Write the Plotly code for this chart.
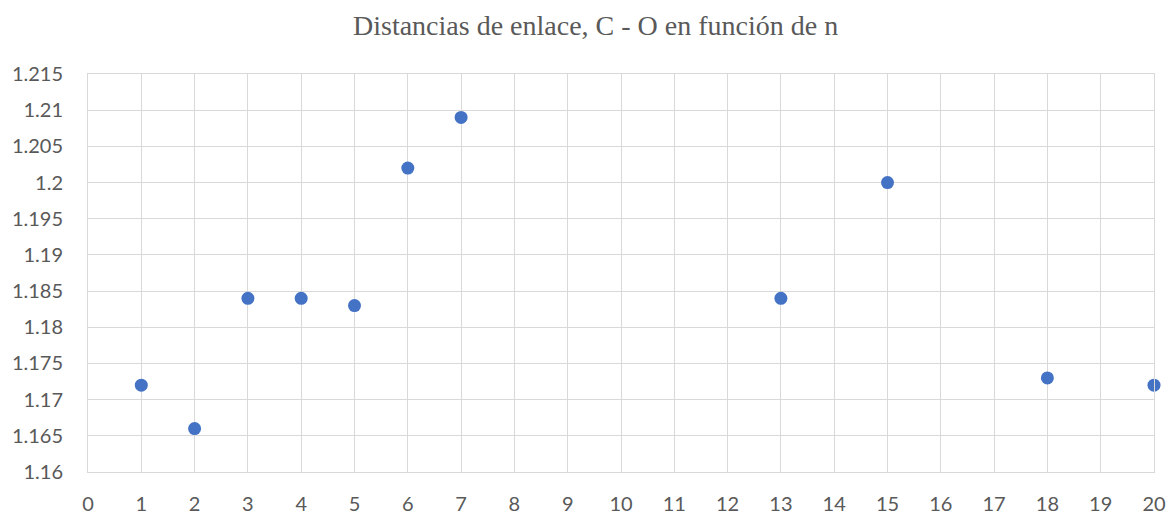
import plotly.graph_objects as go

# Bond distances C - O as a function of n
n_values = [1, 2, 3, 4, 5, 6, 7, 13, 15, 18, 20]
distances = [1.172, 1.166, 1.184, 1.184, 1.183, 1.202, 1.209, 1.184, 1.200, 1.173, 1.172]

x_ticks = list(range(0, 21))
y_ticks = [1.16, 1.165, 1.17, 1.175, 1.18, 1.185, 1.19, 1.195, 1.2, 1.205, 1.21, 1.215]
y_labels = ["1.16", "1.165", "1.17", "1.175", "1.18", "1.185", "1.19", "1.195", "1.2", "1.205", "1.21", "1.215"]

title_text = "Distancias de enlace, C - O en función de n"

W, H = 1169, 514
ML, MR, MT, MB = 88, 15, 74, 42

fig = go.Figure(
    go.Scatter(
        x=n_values,
        y=distances,
        mode="markers",
        marker=dict(color="#4472C4", size=13, line=dict(width=0)),
        showlegend=False,
        cliponaxis=False,
    )
)

tick_font = dict(family="Lato", size=20, color="#595959")

# Chart title drawn as a paper-anchored annotation
fig.add_annotation(
    text=title_text,
    xref="paper",
    yref="paper",
    x=(595 - ML) / (W - ML - MR),
    y=1 + (MT - 26) / (H - MT - MB),
    xanchor="center",
    yanchor="middle",
    showarrow=False,
    font=dict(family="Liberation Serif", size=28, color="#595959"),
)

fig.update_layout(
    width=W,
    height=H,
    margin=dict(l=ML, r=MR, t=MT, b=MB, autoexpand=False),
    paper_bgcolor="white",
    plot_bgcolor="white",
    xaxis=dict(
        range=[0, 20],
        tickvals=x_ticks,
        ticktext=[str(v) for v in x_ticks],
        showgrid=True,
        gridcolor="#D9D9D9",
        gridwidth=1,
        zeroline=False,
        showline=True,
        linecolor="#D9D9D9",
        linewidth=1,
        mirror=True,
        ticks="",
        ticklabelstandoff=14,
        tickfont=tick_font,
        automargin=False,
    ),
    yaxis=dict(
        range=[1.16, 1.215],
        tickvals=y_ticks,
        ticktext=y_labels,
        showgrid=True,
        gridcolor="#D9D9D9",
        gridwidth=1,
        zeroline=False,
        showline=True,
        linecolor="#D9D9D9",
        linewidth=1,
        mirror=True,
        ticks="",
        ticklabelstandoff=20,
        tickfont=tick_font,
        automargin=False,
    ),
)

fig.write_html("out.html")
